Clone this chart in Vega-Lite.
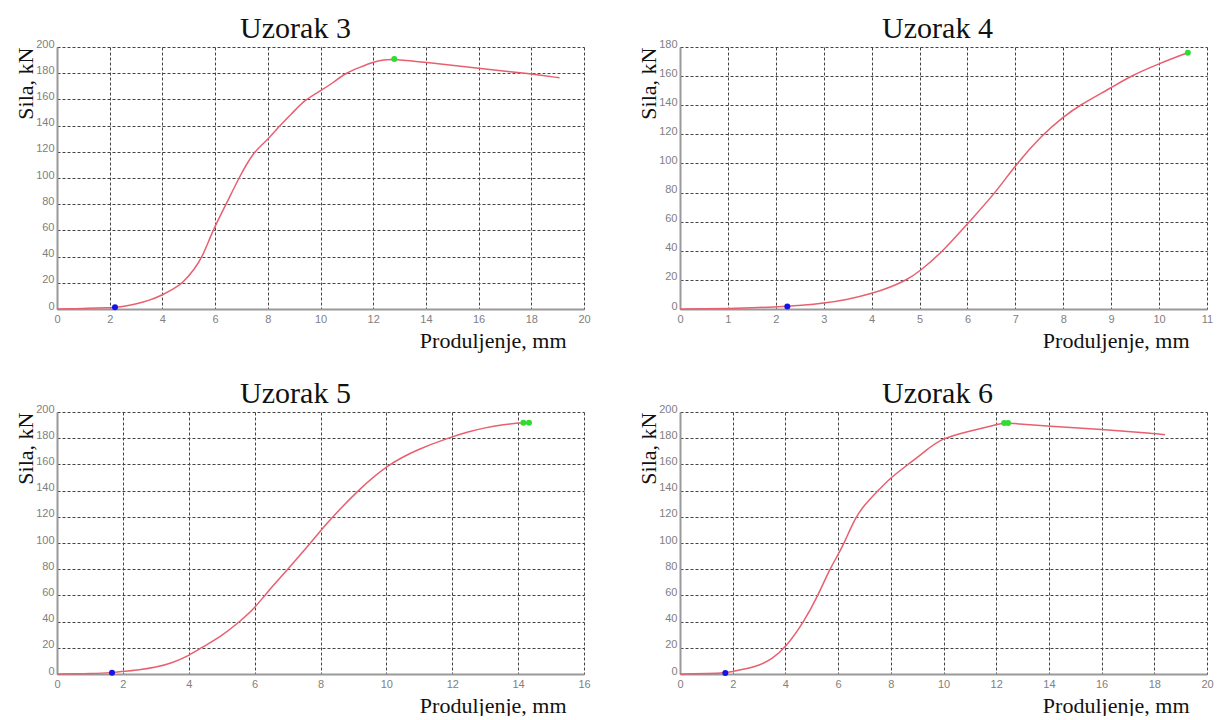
{
  "$schema": "https://vega.github.io/schema/vega-lite/v6.json",
  "background": "white",
  "padding": {"left": 13, "top": 14, "right": 0, "bottom": 0},
  "columns": 2,
  "spacing": {"row": 28, "column": 45},
  "concat": [
    {
      "width": 527, "height": 262,
      "title": {"text": "Uzorak 3", "dx": -25},
      "data": {"values": [
        {"x": 0, "y": 0}, {"x": 0.5, "y": 0.2}, {"x": 1, "y": 0.4}, {"x": 1.5, "y": 0.7}, {"x": 2, "y": 1.0},
        {"x": 2.2, "y": 1.3, "p": "start"}, {"x": 2.6, "y": 2.2}, {"x": 3, "y": 3.8}, {"x": 3.5, "y": 6.5},
        {"x": 4, "y": 10.7}, {"x": 4.4, "y": 15}, {"x": 4.78, "y": 20}, {"x": 5.2, "y": 30}, {"x": 5.53, "y": 40},
        {"x": 5.91, "y": 60}, {"x": 6.42, "y": 80}, {"x": 6.9, "y": 100}, {"x": 7.45, "y": 120}, {"x": 8, "y": 129},
        {"x": 8.45, "y": 140}, {"x": 9, "y": 151}, {"x": 9.43, "y": 160}, {"x": 10, "y": 166.5}, {"x": 10.5, "y": 173},
        {"x": 10.94, "y": 180}, {"x": 11.5, "y": 184.5}, {"x": 12, "y": 188.5}, {"x": 12.4, "y": 190.2},
        {"x": 12.8, "y": 190.8, "p": "max"}, {"x": 14, "y": 188.3}, {"x": 16, "y": 183.8}, {"x": 18, "y": 179.5},
        {"x": 19.07, "y": 176.5}
      ]},
      "encoding": {
        "x": {"field": "x", "type": "quantitative", "scale": {"domain": [0, 20], "nice": false},
              "axis": {"values": [0, 2, 4, 6, 8, 10, 12, 14, 16, 18, 20], "title": "Produljenje, mm"}},
        "y": {"field": "y", "type": "quantitative", "scale": {"domain": [0, 200], "nice": false},
              "axis": {"values": [0, 20, 40, 60, 80, 100, 120, 140, 160, 180, 200], "title": "Sila, kN"}}
      },
      "layer": [
        {"mark": {"type": "line", "color": "#e8606e", "strokeWidth": 1.5, "interpolate": "basis"}},
        {"transform": [{"filter": "datum.p != null"}],
         "mark": {"type": "point", "filled": true, "size": 36, "opacity": 1},
         "encoding": {"color": {"field": "p", "type": "nominal", "scale": {"domain": ["start", "max"], "range": ["#1414e6", "#2fdc2f"]}, "legend": null}}}
      ]
    },
    {
      "width": 527, "height": 262,
      "title": {"text": "Uzorak 4", "dx": -6},
      "data": {"values": [
        {"x": 0, "y": 0}, {"x": 0.5, "y": 0.1}, {"x": 1, "y": 0.3}, {"x": 1.5, "y": 0.8}, {"x": 2, "y": 1.5},
        {"x": 2.24, "y": 1.8, "p": "start"}, {"x": 2.5, "y": 2.4}, {"x": 3, "y": 3.9}, {"x": 3.5, "y": 6.5},
        {"x": 4, "y": 10.5}, {"x": 4.4, "y": 15}, {"x": 4.73, "y": 20}, {"x": 5, "y": 25.7}, {"x": 5.5, "y": 40},
        {"x": 6, "y": 58.6}, {"x": 6.59, "y": 80}, {"x": 7, "y": 99}, {"x": 7.57, "y": 120}, {"x": 8, "y": 132},
        {"x": 8.34, "y": 140}, {"x": 9, "y": 152}, {"x": 9.4, "y": 160}, {"x": 10, "y": 168.6},
        {"x": 10.6, "y": 176.1, "p": "max"}
      ]},
      "encoding": {
        "x": {"field": "x", "type": "quantitative", "scale": {"domain": [0, 11], "nice": false},
              "axis": {"values": [0, 1, 2, 3, 4, 5, 6, 7, 8, 9, 10, 11], "title": "Produljenje, mm"}},
        "y": {"field": "y", "type": "quantitative", "scale": {"domain": [0, 180], "nice": false},
              "axis": {"values": [0, 20, 40, 60, 80, 100, 120, 140, 160, 180], "title": "Sila, kN"}}
      },
      "layer": [
        {"mark": {"type": "line", "color": "#e8606e", "strokeWidth": 1.5, "interpolate": "basis"}},
        {"transform": [{"filter": "datum.p != null"}],
         "mark": {"type": "point", "filled": true, "size": 36, "opacity": 1},
         "encoding": {"color": {"field": "p", "type": "nominal", "scale": {"domain": ["start", "max"], "range": ["#1414e6", "#2fdc2f"]}, "legend": null}}}
      ]
    },
    {
      "width": 527, "height": 262,
      "title": {"text": "Uzorak 5", "dx": -25},
      "data": {"values": [
        {"x": 0, "y": 0}, {"x": 0.5, "y": 0.1}, {"x": 1, "y": 0.3}, {"x": 1.67, "y": 1.0, "p": "start"},
        {"x": 2, "y": 2}, {"x": 2.5, "y": 3.2}, {"x": 3, "y": 5}, {"x": 3.5, "y": 8.5}, {"x": 4, "y": 14},
        {"x": 4.38, "y": 20}, {"x": 5, "y": 29}, {"x": 5.55, "y": 40}, {"x": 6, "y": 50.3}, {"x": 6.3, "y": 60},
        {"x": 7.01, "y": 80}, {"x": 7.7, "y": 100}, {"x": 8, "y": 109.4}, {"x": 8.37, "y": 120}, {"x": 9.13, "y": 140},
        {"x": 10.04, "y": 160}, {"x": 11, "y": 172}, {"x": 11.86, "y": 180}, {"x": 12.5, "y": 185}, {"x": 13, "y": 188},
        {"x": 13.5, "y": 190.3}, {"x": 14, "y": 191.5}, {"x": 14.16, "y": 191.8, "p": "max"}, {"x": 14.33, "y": 191.8, "p": "max"}
      ]},
      "encoding": {
        "x": {"field": "x", "type": "quantitative", "scale": {"domain": [0, 16], "nice": false},
              "axis": {"values": [0, 2, 4, 6, 8, 10, 12, 14, 16], "title": "Produljenje, mm"}},
        "y": {"field": "y", "type": "quantitative", "scale": {"domain": [0, 200], "nice": false},
              "axis": {"values": [0, 20, 40, 60, 80, 100, 120, 140, 160, 180, 200], "title": "Sila, kN"}}
      },
      "layer": [
        {"mark": {"type": "line", "color": "#e8606e", "strokeWidth": 1.5, "interpolate": "basis"}},
        {"transform": [{"filter": "datum.p != null"}],
         "mark": {"type": "point", "filled": true, "size": 36, "opacity": 1},
         "encoding": {"color": {"field": "p", "type": "nominal", "scale": {"domain": ["start", "max"], "range": ["#1414e6", "#2fdc2f"]}, "legend": null}}}
      ]
    },
    {
      "width": 527, "height": 262,
      "title": {"text": "Uzorak 6", "dx": -6},
      "data": {"values": [
        {"x": 0, "y": 0}, {"x": 0.5, "y": 0.1}, {"x": 1, "y": 0.3}, {"x": 1.72, "y": 0.8, "p": "start"},
        {"x": 2, "y": 2}, {"x": 2.5, "y": 3.8}, {"x": 3, "y": 6.4}, {"x": 3.5, "y": 11.5}, {"x": 4, "y": 20},
        {"x": 4.71, "y": 40}, {"x": 5.24, "y": 60}, {"x": 5.68, "y": 80}, {"x": 6, "y": 91}, {"x": 6.23, "y": 100},
        {"x": 6.67, "y": 120}, {"x": 7, "y": 129}, {"x": 7.52, "y": 140}, {"x": 8, "y": 150}, {"x": 8.66, "y": 160},
        {"x": 9.3, "y": 170}, {"x": 9.92, "y": 180}, {"x": 11, "y": 185.5}, {"x": 12, "y": 190.3},
        {"x": 12.3, "y": 191.6, "p": "max"}, {"x": 12.45, "y": 191.6, "p": "max"}, {"x": 14, "y": 189},
        {"x": 16, "y": 186.7}, {"x": 18, "y": 183.7}, {"x": 18.41, "y": 182.7}
      ]},
      "encoding": {
        "x": {"field": "x", "type": "quantitative", "scale": {"domain": [0, 20], "nice": false},
              "axis": {"values": [0, 2, 4, 6, 8, 10, 12, 14, 16, 18, 20], "title": "Produljenje, mm"}},
        "y": {"field": "y", "type": "quantitative", "scale": {"domain": [0, 200], "nice": false},
              "axis": {"values": [0, 20, 40, 60, 80, 100, 120, 140, 160, 180, 200], "title": "Sila, kN"}}
      },
      "layer": [
        {"mark": {"type": "line", "color": "#e8606e", "strokeWidth": 1.5, "interpolate": "basis"}},
        {"transform": [{"filter": "datum.p != null"}],
         "mark": {"type": "point", "filled": true, "size": 36, "opacity": 1},
         "encoding": {"color": {"field": "p", "type": "nominal", "scale": {"domain": ["start", "max"], "range": ["#1414e6", "#2fdc2f"]}, "legend": null}}}
      ]
    }
  ],
  "config": {
    "view": {"stroke": null},
    "font": "Liberation Serif",
    "title": {"font": "Liberation Serif", "fontSize": 30, "fontWeight": "normal", "color": "#111111", "offset": -6},
    "axis": {
      "labelFont": "Liberation Sans", "labelFontSize": 11, "labelColor": "#808080", "labelOverlap": false,
      "gridColor": "#444444", "gridDash": [3, 2], "gridWidth": 1, "gridOpacity": 1,
      "domainColor": "#999999", "domainWidth": 2, "ticks": false, "tickSize": 0,
      "titleFont": "Liberation Serif", "titleFontSize": 22, "titleFontWeight": "normal", "titleColor": "#111111"
    },
    "axisX": {"labelPadding": 4, "labelFlush": false, "titleAnchor": "end", "titleAlign": "right", "titleX": 509, "titleY": 38, "titleBaseline": "alphabetic"},
    "axisY": {"labelPadding": 3, "labelOffset": -3, "labelFlush": false, "titleAnchor": "end", "titleAlign": "right", "titleX": -25, "titleY": 0, "titleBaseline": "alphabetic"}
  }
}
